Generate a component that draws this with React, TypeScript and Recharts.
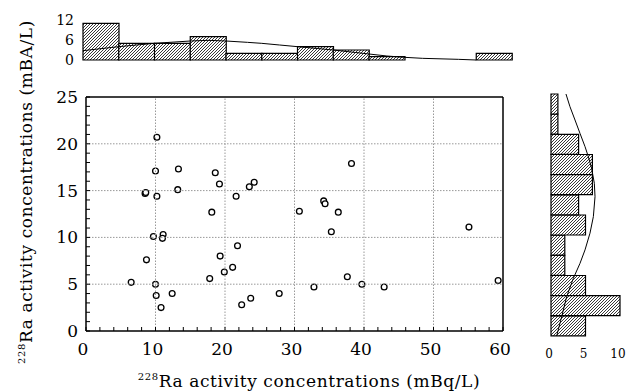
import React from 'react';
import { ScatterChart, Scatter, XAxis, YAxis, ComposedChart, Bar, Line } from 'recharts';

const SERIF = '"DejaVu Serif", serif';
const PLOT_W = 417;
const PLOT_H = 234;

// scatter: 228Ra (x) vs 226Ra (y)
const ra228 = [
  10.2, 10.0, 13.3, 18.6, 19.2, 13.2, 8.5, 8.6, 10.2, 21.6, 23.5, 24.2, 18.1, 30.7,
  9.7, 11.1, 11.0, 21.8, 8.7, 19.3, 21.1, 19.9, 17.8, 6.5, 10.0, 10.1, 12.4, 10.8,
  22.4, 23.7, 27.8, 38.2, 34.2, 34.4, 36.3, 35.3, 55.1, 37.6, 32.8, 39.7, 42.9, 59.3,
];
const ra226 = [
  20.7, 17.1, 17.3, 16.9, 15.7, 15.1, 14.7, 14.8, 14.4, 14.4, 15.4, 15.9, 12.7, 12.8,
  10.1, 10.3, 9.9, 9.1, 7.6, 8.0, 6.8, 6.3, 5.6, 5.2, 5.0, 3.8, 4.0, 2.5,
  2.8, 3.5, 4.0, 17.9, 13.9, 13.6, 12.7, 10.6, 11.1, 5.8, 4.7, 5.0, 4.7, 5.4,
];

// top histogram (228Ra)
const topBins = ['1', '2', '3', '4', '5', '6', '7', '8', '9', '10', '11', '12'];
const topCounts = [11, 5, 5, 7, 2, 2, 4, 3, 1, 0, 0, 2];
const topCurveX = [0, 1, 2, 3, 3.5, 4, 4.6, 5, 5.5, 6, 7, 8, 8.5, 9, 9.5, 10.5, 11];
const topCurveY = [2.8, 4.0, 5.0, 5.7, 5.9, 5.7, 5.3, 5.0, 4.5, 4.0, 3.0, 1.8, 1.2, 0.8, 0.5, 0.2, 0];

// right histogram (226Ra), bottom to top
const rightBins = ['1', '2', '3', '4', '5', '6', '7', '8', '9', '10', '11', '12'];
const rightCounts = [5, 10, 5, 2, 2, 5, 4, 6, 6, 4, 1, 1];
const rightCurveV = [0, 0.63, 1.29, 1.95, 2.61, 3.11, 3.69, 4.43, 5.09, 6.08, 6.9, 7.73, 8.4, 9.14, 10.05, 11.04, 12.0];
const rightCurveC = [2.17, 2.75, 3.48, 4.2, 4.93, 5.41, 5.89, 6.28, 6.38, 6.14, 5.65, 4.93, 4.2, 3.24, 2.27, 1.55, 0.82];

const topTicks = [0, 6, 12];
const rightTicks = [0, 5, 10];
const xMinor = Array.from({ length: 31 }, (_, i) => i * 2);
const yMinor = Array.from({ length: 26 }, (_, i) => i);

const points = ra228.map((x, i) => ({ x, y: ra226[i] }));
const topData = topBins.map((b, i) => ({ bin: b, n: topCounts[i] }));
const topCurve = topCurveX.map((x, i) => ({ x, v: topCurveY[i] }));
const rightData = rightBins.map((b, i) => ({ bin: b, n: rightCounts[i] }));
const rightCurve = rightCurveV.map((v, i) => ({ v, c: rightCurveC[i] }));

const Hatch = ({ id }: { id: string }) => (
  <defs>
    <pattern id={id} patternUnits="userSpaceOnUse" width="3" height="3">
      <rect width="3" height="3" fill="#fff" />
      <path d="M-1,1 L1,-1 M0,3 L3,0 M2,4 L4,2" stroke="#222" strokeWidth={0.9} />
    </pattern>
  </defs>
);

const gridLine = { stroke: '#999', strokeWidth: 1, strokeDasharray: '1.5 1.5' };

// bottom axis: minor ticks, labels every 10, dotted grid at majors
const BottomTick = (p: any) => {
  const v = Number(p.payload.value);
  const major = v % 10 === 0;
  return (
    <g>
      {major && v > 0 && v < 60 && (
        <path d={`M${p.x},${p.y} V${p.y - PLOT_H}`} fill="none" {...gridLine} />
      )}
      <path d={`M${p.x},${p.y} V${p.y - 4}`} stroke="#000" fill="none" />
      {major && (
        <text x={p.x - 3} y={p.y + 24} textAnchor="middle" fontSize={17} fontFamily={SERIF} fill="#000">{v}</text>
      )}
    </g>
  );
};
const TopTick = (p: any) => <path d={`M${p.x},${p.y} V${p.y + 4}`} stroke="#000" fill="none" />;
const LeftTick = (p: any) => {
  const v = Number(p.payload.value);
  const major = v % 5 === 0;
  return (
    <g>
      {major && v > 0 && v < 25 && (
        <path d={`M${p.x},${p.y} H${p.x + PLOT_W}`} fill="none" {...gridLine} />
      )}
      <path d={`M${p.x},${p.y} H${p.x + 4}`} stroke="#000" fill="none" />
      {major && (
        <text x={p.x - 8} y={p.y + 6} textAnchor="end" fontSize={17} fontFamily={SERIF} fill="#000">{v}</text>
      )}
    </g>
  );
};
const RightTick = (p: any) => <path d={`M${p.x},${p.y} H${p.x - 4}`} stroke="#000" fill="none" />;
const HistTick = (p: any) => (
  <text x={p.x - 2} y={p.y + 10} textAnchor="middle" fontSize={12} fontFamily={SERIF} fill="#000">{p.payload.value}</text>
);

const Dot = (p: any) => <circle cx={p.cx} cy={p.cy} r={2.9} fill="#fff" stroke="#000" strokeWidth={1.3} />;

const axisLine = { stroke: '#000', strokeWidth: 1.5 };

export default function App() {
  return (
    <div style={{ position: 'absolute', left: 0, top: 0, width: 626, height: 392, background: '#fff' }}>
      <div style={{ position: 'absolute', left: 0, top: 0 }}>
        <ScatterChart width={520} height={392} margin={{ top: 96, right: 16, bottom: 31, left: 30 }}>
          <XAxis dataKey="x" type="number" domain={[0, 60]} ticks={xMinor} interval={0} height={30}
            tickSize={0} tickMargin={0} tickLine={false} tick={BottomTick} axisLine={axisLine} />
          <XAxis xAxisId="top" orientation="top" type="number" domain={[0, 60]} ticks={xMinor} interval={0} height={1}
            tickSize={0} tickMargin={0} tickLine={false} tick={TopTick} axisLine={axisLine} />
          <YAxis dataKey="y" type="number" domain={[0, 25]} ticks={yMinor} interval={0} width={56}
            tickSize={0} tickMargin={0} tickLine={false} tick={LeftTick} axisLine={axisLine} />
          <YAxis yAxisId="right" orientation="right" type="number" domain={[0, 25]} ticks={yMinor} interval={0} width={1}
            tickSize={0} tickMargin={0} tickLine={false} tick={RightTick} axisLine={axisLine} />
          <Scatter data={points} shape={Dot} isAnimationActive={false} />
        </ScatterChart>
      </div>

      <div style={{ position: 'absolute', left: 0, top: 0 }}>
        <ComposedChart width={530} height={80} data={topData} barCategoryGap={0} margin={{ top: 20, right: 18, bottom: 20, left: 38 }}>
          <Hatch id="hatchTop" />
          <XAxis dataKey="bin" hide />
          <XAxis xAxisId="c" dataKey="x" type="number" domain={[0, 12]} hide />
          <YAxis type="number" domain={[0, 12]} ticks={topTicks} interval={0} width={45} tickSize={0} tickMargin={9}
            tickLine={false} axisLine={false} tick={{ fontSize: 14, fontFamily: SERIF, fill: '#000' }} />
          <Bar dataKey="n" fill="url(#hatchTop)" stroke="#000" strokeWidth={1.2} isAnimationActive={false} />
          <Line xAxisId="c" data={topCurve} dataKey="v" type="linear" dot={false} stroke="#000" strokeWidth={1} isAnimationActive={false} />
        </ComposedChart>
      </div>

      <div style={{ position: 'absolute', left: 530, top: 80 }}>
        <ComposedChart width={96} height={312} data={rightData} layout="vertical" barCategoryGap={0}
          margin={{ top: 14, right: 6, bottom: 26, left: 21 }}>
          <Hatch id="hatchRight" />
          <YAxis dataKey="bin" type="category" reversed hide />
          <YAxis yAxisId="c" dataKey="v" type="number" domain={[0, 12]} hide />
          <XAxis type="number" domain={[0, 10]} ticks={rightTicks} interval={0} height={30} tickSize={0} tickMargin={12}
            tickLine={false} axisLine={false} tick={HistTick} />
          <Bar dataKey="n" fill="url(#hatchRight)" stroke="#000" strokeWidth={1.2} isAnimationActive={false} />
          <Line yAxisId="c" data={rightCurve} dataKey="c" type="linear" dot={false} stroke="#000" strokeWidth={1} isAnimationActive={false} />
        </ComposedChart>
      </div>

      <svg width={626} height={392} style={{ position: 'absolute', left: 0, top: 0, pointerEvents: 'none' }}>
        <text x={309} y={387} textAnchor="middle" fontSize={17} letterSpacing={0.6} fontFamily={SERIF} fill="#000">
          <tspan fontSize={10} dy={-7}>228</tspan>
          <tspan dy={7}>Ra activity concentrations (mBq/L)</tspan>
        </text>
        <text transform="translate(32,192) rotate(-90)" textAnchor="middle" fontSize={17} letterSpacing={0.6} fontFamily={SERIF} fill="#000">
          <tspan fontSize={10} dy={-7}>228</tspan>
          <tspan dy={7}>Ra activity concentrations (mBA/L)</tspan>
        </text>
      </svg>
    </div>
  );
}
